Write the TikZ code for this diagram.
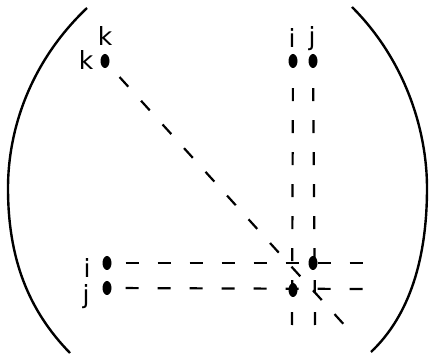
\documentclass[tikz,border=0pt]{standalone}
\usepackage{fontspec}
\setmainfont{DejaVu Sans}
\usetikzlibrary{shapes.geometric}

\begin{document}
\begin{tikzpicture}[
    x=1pt, y=-1pt,
    paren/.style={line width=2.4pt},
    dot/.style={ellipse, fill=black, minimum width=9pt, minimum height=14pt, inner sep=0pt},
    idx/.style={font=\fontsize{25}{27}\selectfont, inner sep=0pt},
    link/.style={line width=2.2pt, dash pattern=on 13pt off 19pt},
]
\useasboundingbox (0,0) rectangle (434,355);

% Brackets
\draw[paren] (87,8) .. controls (30,62) and (8,130) .. (8,188) .. controls (8,258) and (28,310) .. (70,353);
\draw[paren] (352,7) .. controls (405,60) and (427,130) .. (427,188) .. controls (427,258) and (410,315) .. (371,352);

% Dots
\node[dot] (k) at (105,61) {};
\node[dot] (ti) at (293,61) {};
\node[dot] (tj) at (313,61) {};
\node[dot] (li) at (107,263) {};
\node[dot] (lj) at (107,288) {};
\node[dot] (xij) at (313,263) {};
\node[dot] (xji) at (293,290) {};

% Labels
\node[idx] (lk1) at (86,60) {k};
\node[idx] (lk2) at (105,36) {k};
\node[idx] (lti) at (292,38) {i};
\node[idx] (ltj) at (312,39) {j};
\node[idx] (lli) at (87,268) {i};
\node[idx] (llj) at (86,297) {j};

% Free ends of the dashed lines
\coordinate (kend) at (348,329);
\coordinate (tiend) at (292,325);
\coordinate (tjend) at (315,325);
\coordinate (liend) at (363,263);
\coordinate (ljend) at (363,289);

% Dashed lines
\draw[link, shorten <=16pt] (k) -- (kend);
\draw[link, shorten <=20pt] (ti) -- (tiend);
\draw[link, shorten <=20pt] (tj) -- (tjend);
\draw[link, shorten <=14pt] (li) -- (liend);
\draw[link, shorten <=14pt] (lj) -- (ljend);

\end{tikzpicture}
\end{document}
